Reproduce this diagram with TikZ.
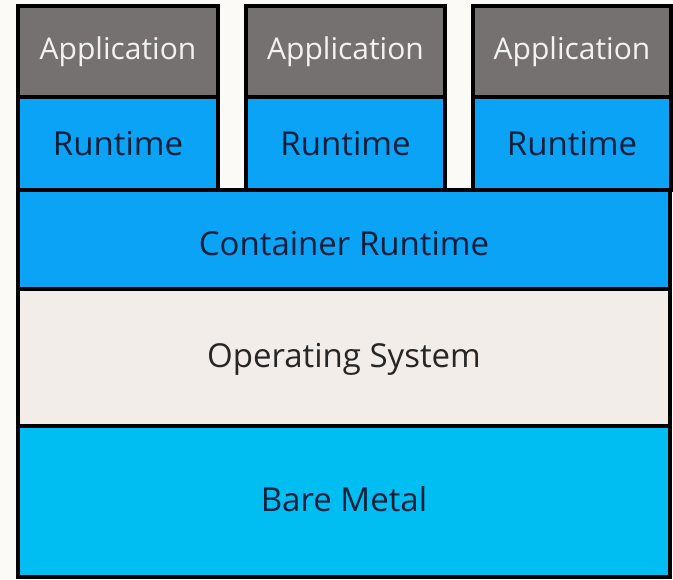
\documentclass[tikz,border=0pt]{standalone}
\usepackage{fontspec}
\setmainfont{Open Sans}
\definecolor{bgc}{HTML}{FBFAF6}
\definecolor{appc}{HTML}{767171}
\definecolor{rtc}{HTML}{0AA3F5}
\definecolor{osc}{HTML}{F2EDE8}
\definecolor{bmc}{HTML}{00BEF2}
\definecolor{navy}{HTML}{0B1E3A}
\definecolor{apptext}{HTML}{F2F2F2}
\begin{document}
\begin{tikzpicture}[x=1pt,y=-1pt,
  layer/.style={draw=black, line width=4.5pt, rectangle, inner sep=0pt, outer sep=0pt},
  appbox/.style={layer, fill=appc, text=apptext, font=\fontsize{30}{34}\selectfont},
  rtbox/.style={layer, fill=rtc, text=navy, font=\fontsize{33}{38}\selectfont},
  osbox/.style={layer, fill=osc},
  bmbox/.style={layer, fill=bmc}]
\fill[bgc] (0,0) rectangle (673,580);
\useasboundingbox (0,0) rectangle (673,580);
% bottom layers
\node[bmbox, minimum width=652pt, minimum height=151pt] (bm) at (344,501.5) {};
\node[text=navy, font=\fontsize{33}{38}\selectfont] (bmt) at (344,499) {Bare Metal};
\node[osbox, minimum width=652pt, minimum height=137pt] (os) at (344,357.5) {};
\node[text=black!85, font=\fontsize{33}{38}\selectfont] (ost) at (344,359) {Operating System};
\node[rtbox, minimum width=652pt, minimum height=99pt] (cr) at (344,239.5) {};
\node[text=navy, font=\fontsize{33}{38}\selectfont] (crt) at (344,244) {Container Runtime};
% columns
\node[rtbox, minimum width=200pt, minimum height=93pt] (r1) at (118,143.5) {\raisebox{-2pt}{Runtime}};
\node[rtbox, minimum width=199pt, minimum height=93pt] (r2) at (345.5,143.5) {\raisebox{-2pt}{Runtime}};
\node[rtbox, minimum width=198pt, minimum height=93pt] (r3) at (572,143.5) {\raisebox{-2pt}{Runtime}};
\node[appbox, minimum width=200pt, minimum height=91pt] (a1) at (118,51.5) {\raisebox{-2pt}{Application}};
\node[appbox, minimum width=199pt, minimum height=91pt] (a2) at (345.5,51.5) {\raisebox{-2pt}{Application}};
\node[appbox, minimum width=198pt, minimum height=91pt] (a3) at (572,51.5) {\raisebox{-2pt}{Application}};
\end{tikzpicture}
\end{document}
